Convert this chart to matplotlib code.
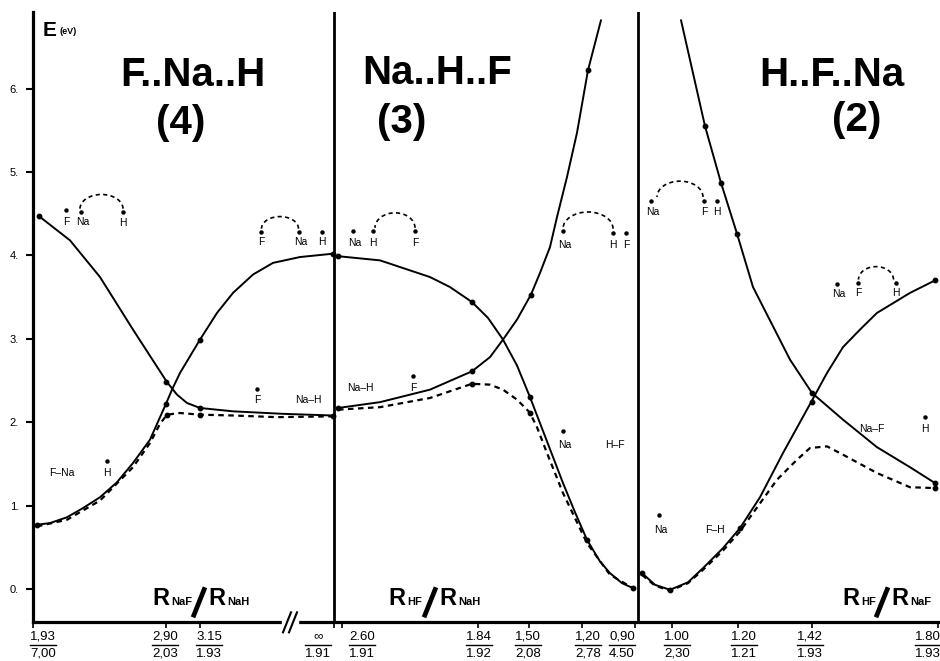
import matplotlib.pyplot as plt
from matplotlib.patches import Arc

plt.rcParams['font.family'] = ['Liberation Sans', 'DejaVu Sans']

# horizontal reaction coordinate (arbitrary units along the three paths), energies in eV
# --- path (4) F..Na..H
s4_a = [39, 70, 100, 133, 167, 177, 187, 200, 233, 283, 333]
e4_a = [4.47, 4.18, 3.74, 3.11, 2.48, 2.33, 2.23, 2.17, 2.13, 2.10, 2.08]
s4_b = [37, 50, 67, 83, 100, 117, 133, 150, 166, 172, 180, 200, 217, 233, 253, 273, 300, 333]
e4_b = [0.77, 0.79, 0.86, 0.97, 1.10, 1.28, 1.51, 1.79, 2.22, 2.39, 2.59, 2.99, 3.31, 3.55, 3.77, 3.91, 3.98, 4.02]
s4_ad = [37, 67, 100, 133, 150, 160, 167, 180, 200, 233, 277, 333]
e4_ad = [0.75, 0.83, 1.06, 1.46, 1.75, 1.98, 2.09, 2.11, 2.09, 2.08, 2.06, 2.07]

# --- path (3) Na..H..F
s3_a = [338, 380, 430, 450, 472, 488, 503, 517, 530, 547, 563, 575, 587, 600, 610, 622, 633]
e3_a = [3.99, 3.94, 3.74, 3.62, 3.44, 3.25, 2.99, 2.68, 2.30, 1.77, 1.27, 0.92, 0.59, 0.33, 0.19, 0.07, 0.01]
s3_b = [338, 380, 430, 472, 490, 503, 517, 531, 540, 550, 557, 567, 577, 588, 601]
e3_b = [2.17, 2.24, 2.39, 2.61, 2.78, 2.99, 3.23, 3.53, 3.79, 4.10, 4.46, 4.94, 5.47, 6.22, 6.82]
s3_ad = [338, 380, 430, 472, 490, 503, 517, 527, 530, 537, 547, 563, 587, 610, 633]
e3_ad = [2.15, 2.18, 2.29, 2.46, 2.45, 2.39, 2.27, 2.15, 2.11, 1.94, 1.63, 1.15, 0.55, 0.17, 0.01]

# --- path (2) H..F..Na
s2_a = [681, 705, 721, 737, 753, 770, 790, 812, 843, 877, 910, 935]
e2_a = [6.82, 5.55, 4.87, 4.26, 3.62, 3.22, 2.75, 2.35, 2.03, 1.70, 1.46, 1.27]
s2_b = [642, 655, 670, 688, 703, 723, 740, 760, 783, 812, 827, 843, 860, 877, 910, 935]
e2_b = [0.19, 0.05, -0.01, 0.08, 0.25, 0.49, 0.73, 1.10, 1.63, 2.26, 2.59, 2.90, 3.11, 3.31, 3.55, 3.70]
s2_ad = [642, 655, 670, 688, 703, 723, 740, 750, 777, 797, 810, 827, 843, 877, 910, 935]
e2_ad = [0.17, 0.04, -0.02, 0.07, 0.23, 0.46, 0.69, 0.86, 1.31, 1.55, 1.69, 1.71, 1.61, 1.39, 1.22, 1.21]

# computed points
pts_s = [39, 37, 166, 166, 200, 200, 200, 167, 333, 333,
         338, 338, 472, 472, 472, 530, 530, 531, 588, 587, 633,
         642, 670, 705, 721, 737, 812, 812, 740, 935, 935, 935]
pts_e = [4.47, 0.77, 2.48, 2.22, 2.99, 2.17, 2.08, 2.09, 4.02, 2.07,
         3.99, 2.17, 3.44, 2.61, 2.46, 2.30, 2.11, 3.53, 6.22, 0.59, 0.01,
         0.19, -0.01, 5.55, 4.87, 4.26, 2.35, 2.24, 0.73, 1.27, 1.21, 3.70]

# x axis: R ratios under the ticks
tick_pos = [33, 166, 200, 334, 342, 478, 529, 582, 635, 672, 738, 812, 938]
lab_pos = [43, 165, 209, 318, 362, 479, 528, 588, 622, 677, 744, 810, 928]
lab_num = ['1,93', '2,90', '3.15', '\u221e', '2.60', '1.84', '1,50', '1,20', '0,90', '1.00', '1.20', '1,42', '1.80']
lab_den = ['7,00', '2,03', '1.93', '1.91', '1.91', '1.92', '2,08', '2,78', '4.50', '2,30', '1.21', '1.93', '1.93']
y_ticks = [0, 1, 2, 3, 4, 5, 6]
section_edges = [334, 638]

fig = plt.figure(figsize=(9.4, 6.61), dpi=100)
ax = fig.add_axes([33 / 940, 39 / 661, 905 / 940, 610 / 661])
ax.set_xlim(33, 938)
ax.set_ylim(-0.396, 6.918)

solid = dict(color='black', lw=1.4, solid_capstyle='round')
dashed = dict(color='black', lw=1.6, ls=(0, (2.5, 2)))
for s, e in [(s4_a, e4_a), (s4_b, e4_b), (s3_a, e3_a), (s3_b, e3_b), (s2_a, e2_a), (s2_b, e2_b)]:
    ax.plot(s, e, **solid)
for s, e in [(s4_ad, e4_ad), (s3_ad, e3_ad), (s2_ad, e2_ad)]:
    ax.plot(s, e, **dashed)
ax.plot(pts_s, pts_e, 'o', color='black', ms=3.2, ls='none')

for xv in section_edges:
    ax.axvline(xv, color='black', lw=2.0)

# axes look
for side in ['top', 'right']:
    ax.spines[side].set_visible(False)
ax.spines['left'].set_linewidth(2.3)
ax.spines['bottom'].set_linewidth(2.3)
ax.set_yticks(y_ticks)
ax.set_yticklabels([f'{v}.' for v in y_ticks], fontsize=8)
ax.set_xticks(tick_pos)
ax.set_xticklabels([])
ax.tick_params(axis='y', direction='out', length=5, width=1.5, pad=5)
ax.tick_params(axis='x', direction='out', length=4, width=1.2)

# fractions under the axis
for c, n, d in zip(lab_pos, lab_num, lab_den):
    ax.text(c, -0.57, n, ha='center', va='center', fontsize=9.5)
    ax.plot([c - 13, c + 13], [-0.675, -0.675], color='black', lw=1.0, clip_on=False)
    ax.text(c, -0.775, d, ha='center', va='center', fontsize=9.5)

# axis break //
ax.add_patch(plt.Rectangle((282, -0.44), 16, 0.09, color='white', clip_on=False, zorder=5))
for x0 in [283, 289]:
    ax.plot([x0, x0 + 8], [-0.52, -0.28], color='black', lw=1.5, clip_on=False, zorder=6)

# titles
title_kw = dict(ha='center', va='center', fontsize=29, fontweight='bold')
ax.text(193, 6.16, 'F..Na..H', **title_kw)
ax.text(181, 5.59, '(4)', **title_kw)
ax.text(437, 6.19, 'Na..H..F', **title_kw)
ax.text(402, 5.60, '(3)', **title_kw)
ax.text(832, 6.16, 'H..F..Na', **title_kw)
ax.text(857, 5.62, '(2)', **title_kw)

ax.text(43, 6.70, 'E', ha='left', va='center', fontsize=15, fontweight='bold')
ax.text(59, 6.69, '(eV)', ha='left', va='center', fontsize=6.5, fontweight='bold')

# R ratio labels
def ratio_label(x, sub1, sub2, w1):
    y = -0.19
    ax.text(x, y, 'R', fontsize=17, fontweight='bold', va='baseline')
    ax.text(x + 19, y, sub1, fontsize=8, fontweight='bold', va='baseline')
    xs = x + 19 + w1
    ax.plot([xs, xs + 12], [-0.34, 0.02], color='black', lw=3.4, solid_capstyle='butt')
    ax.text(xs + 15, y, 'R', fontsize=17, fontweight='bold', va='baseline')
    ax.text(xs + 34, y, sub2, fontsize=8, fontweight='bold', va='baseline')

ratio_label(152, 'NaF', 'NaH', 22)
ratio_label(388, 'HF', 'NaH', 17)
ratio_label(842, 'HF', 'NaF', 15)

# molecular sketches: atom labels, dots and dashed bonds
atoms = [('F', 66, 4.40, 4.54), ('Na', 83, 4.40, 4.52), ('H', 123, 4.39, 4.52),
         ('F', 261, 4.16, 4.28), ('Na', 301, 4.16, 4.28), ('H', 322, 4.16, 4.28),
         ('F', 257, 2.27, 2.40), ('Na\u2013H', 308, 2.27, None),
         ('F\u2013Na', 62, 1.39, None), ('H', 107, 1.39, 1.53),
         ('Na', 355, 4.15, 4.29), ('H', 373, 4.15, 4.29), ('F', 415, 4.15, 4.29),
         ('Na', 565, 4.12, 4.29), ('H', 613, 4.12, 4.27), ('F', 626, 4.12, 4.27),
         ('Na\u2013H', 360, 2.41, None), ('F', 413, 2.41, 2.55),
         ('Na', 565, 1.73, 1.89), ('H\u2013F', 615, 1.73, None),
         ('Na', 653, 4.52, 4.65), ('F', 704, 4.52, 4.65), ('H', 717, 4.52, 4.65),
         ('Na', 839, 3.54, 3.66), ('F', 858, 3.55, 3.67), ('H', 896, 3.55, 3.67),
         ('Na\u2013F', 872, 1.92, None), ('H', 925, 1.92, 2.06),
         ('Na', 661, 0.71, 0.89), ('F\u2013H', 715, 0.71, None)]
for name, x, yt, yd in atoms:
    ax.text(x, yt, name, ha='center', va='center', fontsize=7.5)
    if yd is not None:
        dx = -2 if name == 'Na' else 0
        ax.plot(x + dx, yd, 'o', color='black', ms=2.2)

# (centre x, centre y, full width, full height)
bonds = [(101.5, 4.56, 43, 0.34), (280, 4.32, 37, 0.29), (395, 4.33, 40, 0.36),
         (588, 4.32, 50, 0.40), (680, 4.70, 46, 0.38), (876, 3.71, 35, 0.31)]
for cx, cy, w, h in bonds:
    ax.add_patch(Arc((cx, cy), w, h, theta1=0, theta2=180, color='black',
                     lw=1.2, ls=(0, (2.5, 2))))

fig.savefig('out.png', dpi=100)
